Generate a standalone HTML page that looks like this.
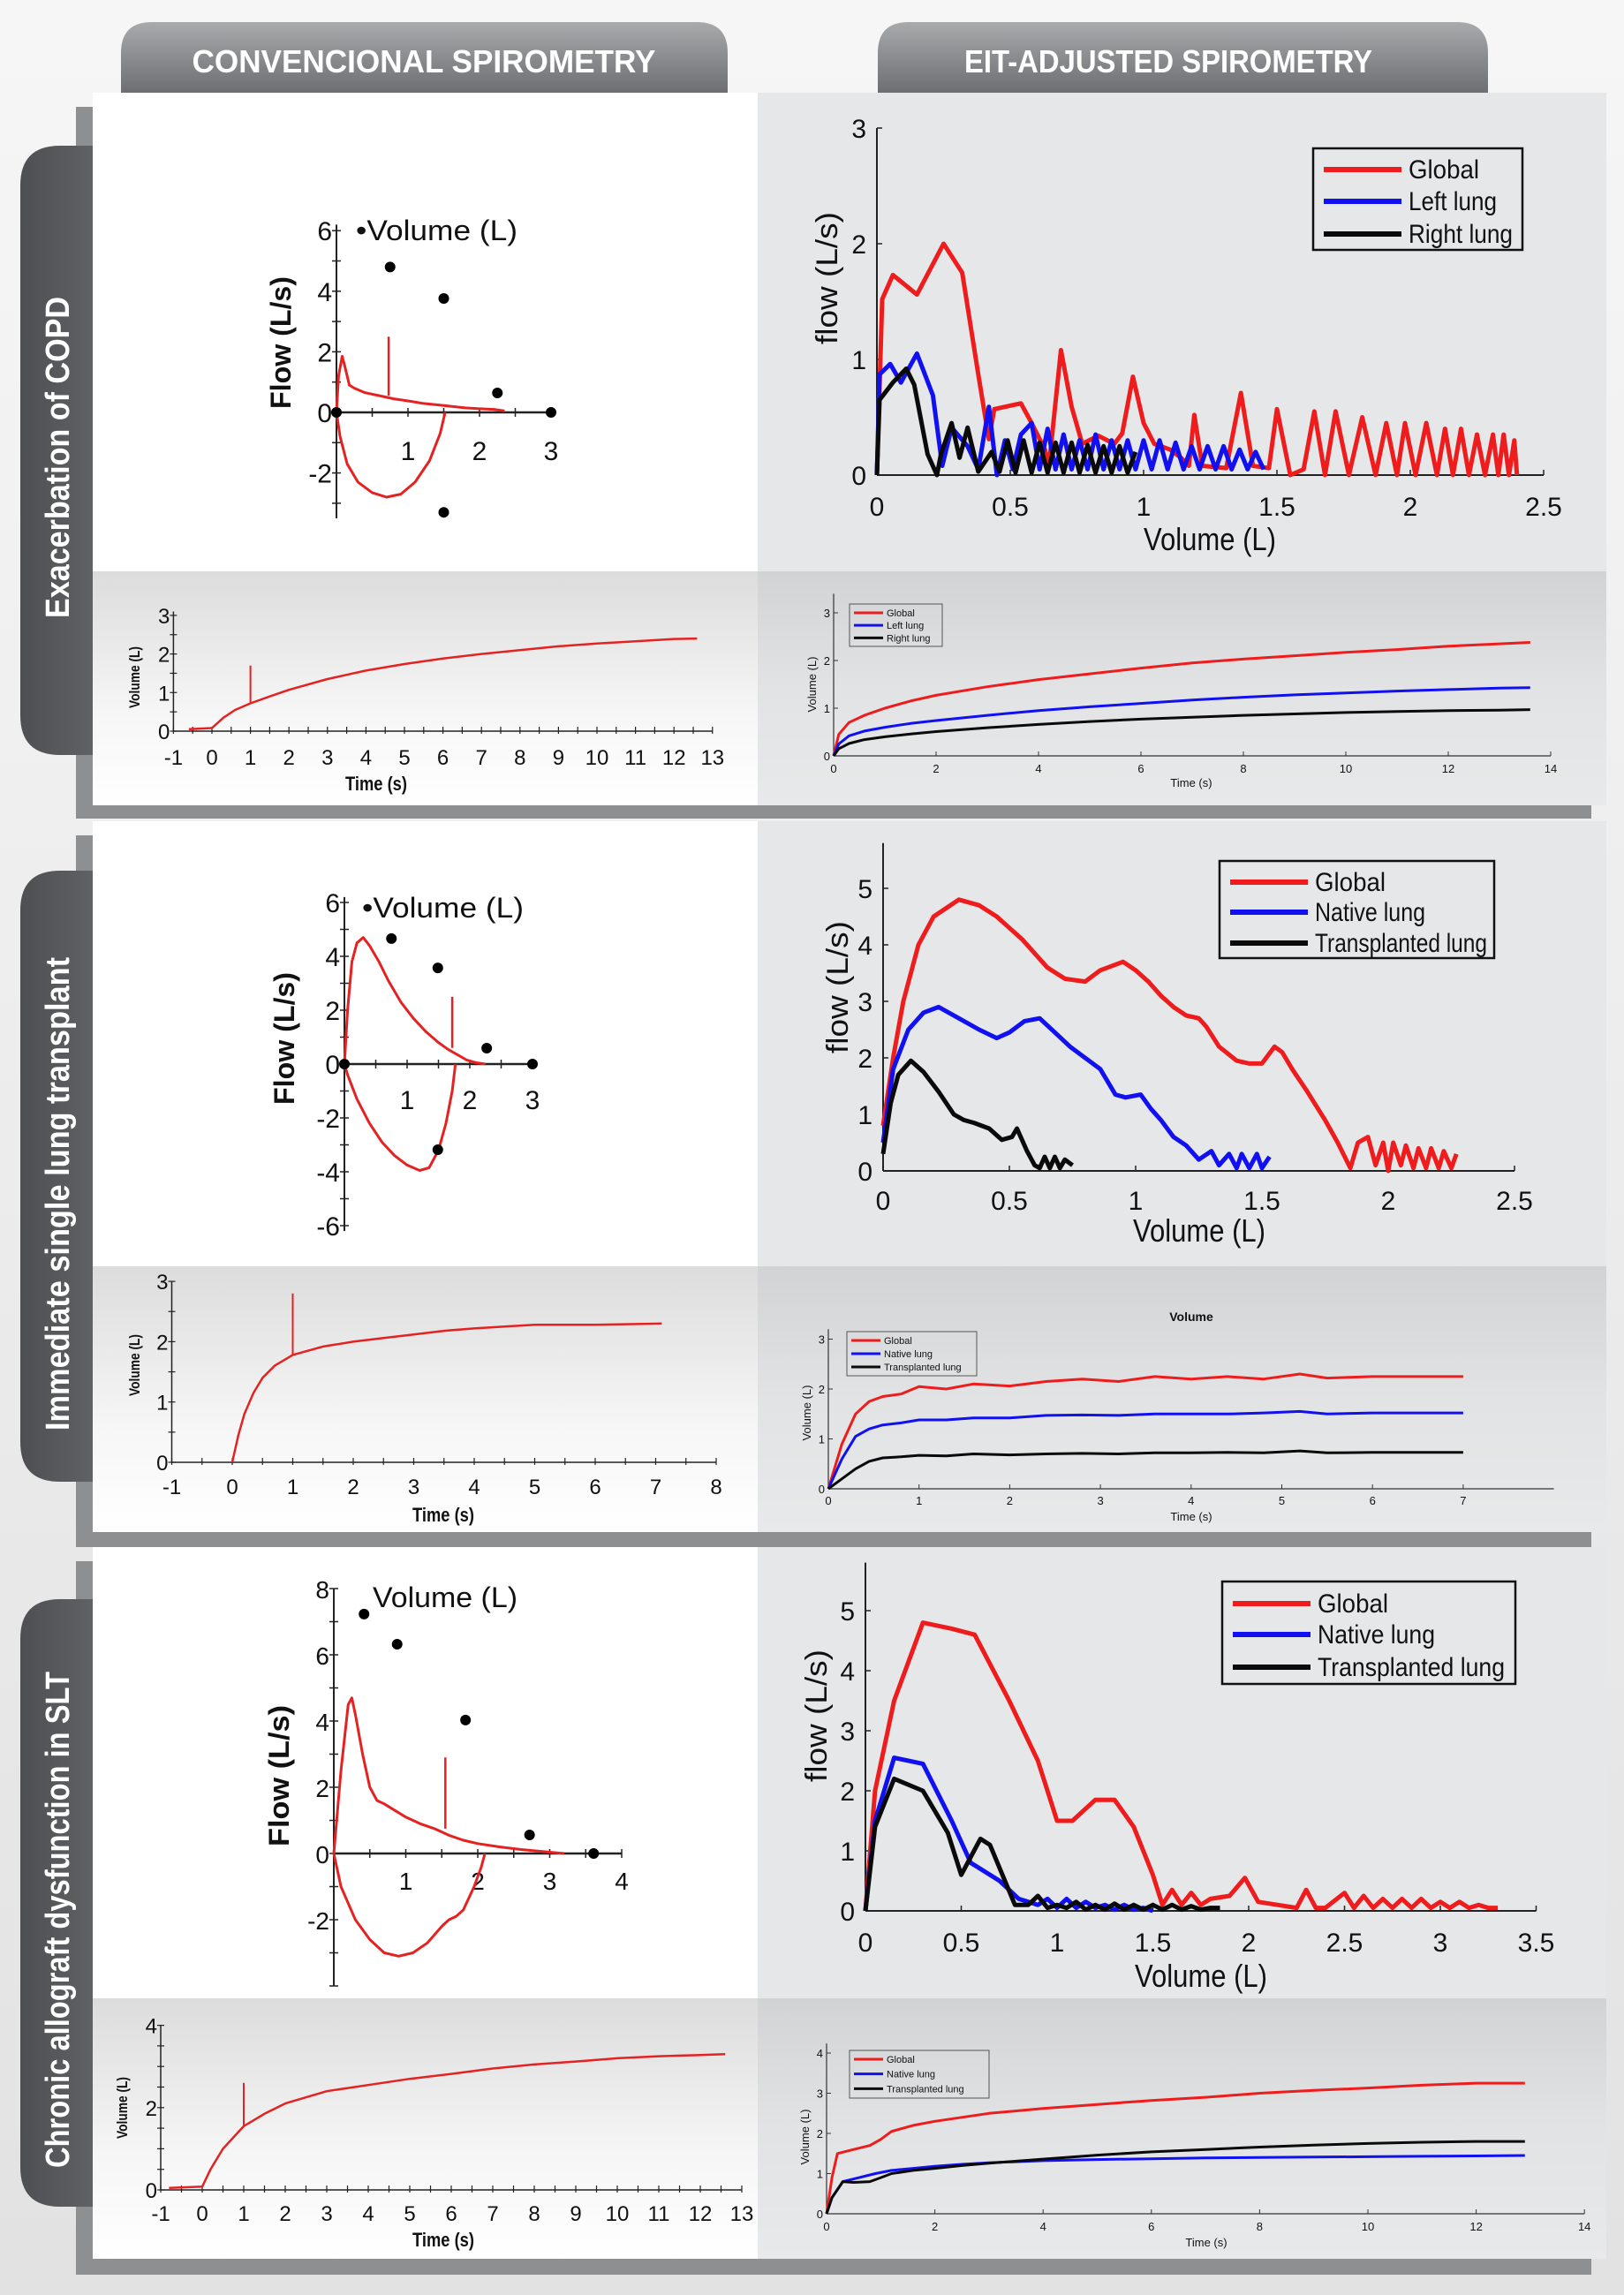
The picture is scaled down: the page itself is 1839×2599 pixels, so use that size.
<!DOCTYPE html>
<html><head><meta charset="utf-8"><style>
html,body{margin:0;padding:0;background:#ececec;}
svg{display:block;}
text{font-family:"Liberation Sans Narrow","Liberation Sans",sans-serif;}
.hdr{font-family:"Liberation Sans Narrow","Liberation Sans",sans-serif;font-weight:bold;fill:#fff;}
.side{font-family:"Liberation Sans",sans-serif;font-weight:bold;fill:#fff;}
</style></head><body>
<svg id="fig" xmlns="http://www.w3.org/2000/svg" width="1839" height="2599" viewBox="0 0 1839 2599">
<defs>
<linearGradient id="bgG" x1="0" y1="0" x2="0" y2="1"><stop offset="0" stop-color="#f6f6f6"/><stop offset="1" stop-color="#e2e2e2"/></linearGradient>
<linearGradient id="tabG" x1="0" y1="0" x2="0" y2="1"><stop offset="0" stop-color="#a9aaac"/><stop offset="1" stop-color="#6a6b6e"/></linearGradient>
<linearGradient id="sideG" x1="0" y1="0" x2="1" y2="0"><stop offset="0" stop-color="#4e4f52"/><stop offset="1" stop-color="#606164"/></linearGradient>
<linearGradient id="stripL" x1="0" y1="0" x2="0" y2="1"><stop offset="0" stop-color="#dcdcdc"/><stop offset="0.6" stop-color="#f6f6f6"/><stop offset="1" stop-color="#ffffff"/></linearGradient>
<linearGradient id="stripR" x1="0" y1="0" x2="0" y2="1"><stop offset="0" stop-color="#d2d3d4"/><stop offset="0.5" stop-color="#e2e3e4"/><stop offset="1" stop-color="#e8e9ea"/></linearGradient>
</defs>
<rect x="0" y="0" width="1839" height="2599" fill="url(#bgG)"/>

<path d="M137,109 V60 Q137,25 172,25 H789 Q824,25 824,60 V109 Z" fill="url(#tabG)"/>
<text class="hdr" x="480" y="82" font-size="36" text-anchor="middle" textLength="525" lengthAdjust="spacingAndGlyphs">CONVENCIONAL SPIROMETRY</text>
<path d="M994,109 V60 Q994,25 1029,25 H1650 Q1685,25 1685,60 V109 Z" fill="url(#tabG)"/>
<text class="hdr" x="1323" y="82" font-size="36" text-anchor="middle" textLength="462" lengthAdjust="spacingAndGlyphs">EIT-ADJUSTED SPIROMETRY</text>

<g id="panels"></g>
</svg>
<script>
const NS='http://www.w3.org/2000/svg';
// ---------- DATA ----------
// Panel 1 conventional flow-volume
const p1ExpX=[0,0.03,0.08,0.12,0.18,0.25,0.4,0.6,0.8,1.0,1.2,1.4,1.6,1.8,2.0,2.2,2.35];
const p1ExpY=[0,1.2,1.85,1.5,0.9,0.8,0.65,0.55,0.45,0.38,0.3,0.25,0.2,0.15,0.12,0.1,0.05];
const p1InsX=[0,0.05,0.15,0.3,0.5,0.7,0.9,1.1,1.3,1.45,1.52];
const p1InsY=[0,-0.8,-1.7,-2.3,-2.65,-2.8,-2.7,-2.3,-1.6,-0.7,0];
const p1SpikeX=[0.73,0.73];const p1SpikeY=[0.55,2.5];
const p1DotX=[0,0.75,1.5,2.25,1.5,3];const p1DotY=[0,4.8,3.76,0.64,-3.3,0];
// Panel 1 EIT flow-volume
const p1GX=[0,0.02,0.06,0.15,0.25,0.32,0.38,0.42,0.44,0.54,0.58,0.63,0.645,0.69,0.73,0.77,0.83,0.89,0.92,0.96,1.0,1.04,1.1,1.14,1.17,1.19,1.22,1.31,1.365,1.41,1.47,1.5,1.55,1.6,1.64,1.68,1.72,1.77,1.82,1.87,1.91,1.95,1.98,2.02,2.06,2.1,2.13,2.16,2.19,2.22,2.25,2.28,2.31,2.33,2.35,2.37,2.39,2.4];
const p1GY=[0,1.52,1.73,1.56,2.0,1.75,0.87,0.31,0.57,0.62,0.45,0.22,0.08,1.08,0.59,0.27,0.34,0.27,0.36,0.85,0.45,0.27,0.22,0.15,0.08,0.52,0.08,0.06,0.71,0.08,0.06,0.57,0,0.05,0.55,0,0.55,0,0.5,0,0.45,0,0.45,0,0.45,0,0.4,0,0.4,0,0.35,0,0.35,0,0.35,0,0.3,0];
const p1LX=[0,0.01,0.05,0.09,0.15,0.21,0.245,0.28,0.34,0.38,0.42,0.45,0.48,0.51,0.54,0.58,0.61,0.64,0.67,0.7,0.73,0.76,0.79,0.82,0.85,0.88,0.91,0.94,0.97,1.0,1.03,1.06,1.09,1.12,1.15,1.18,1.21,1.24,1.27,1.3,1.33,1.36,1.39,1.42,1.45];
const p1LY=[0,0.87,0.96,0.8,1.05,0.69,0.08,0.41,0.25,0.05,0.59,0,0.3,0.05,0.35,0.45,0.05,0.4,0.05,0.35,0.05,0.3,0.05,0.35,0.05,0.3,0.05,0.3,0.05,0.3,0.05,0.3,0.05,0.28,0.05,0.25,0.05,0.25,0.05,0.25,0.05,0.22,0.05,0.2,0.05];
const p1RX=[0,0.01,0.06,0.11,0.14,0.19,0.225,0.24,0.28,0.31,0.34,0.38,0.43,0.46,0.49,0.52,0.55,0.58,0.61,0.64,0.67,0.7,0.73,0.76,0.79,0.82,0.85,0.88,0.91,0.94,0.97];
const p1RY=[0,0.65,0.8,0.92,0.78,0.18,0,0.18,0.45,0.15,0.41,0.03,0.2,0.03,0.3,0.02,0.3,0.02,0.28,0.02,0.28,0.02,0.28,0.02,0.26,0.02,0.25,0.02,0.25,0.02,0.2];
// Panel 1 volume-time
const p1VTX=[-0.6,0,0.3,0.6,1,1.5,2,3,4,5,6,7,8,9,10,11,12,12.6];
const p1VTY=[0.05,0.08,0.35,0.55,0.72,0.9,1.07,1.35,1.57,1.74,1.88,2.0,2.1,2.2,2.27,2.33,2.39,2.4];
const p1VTSpikeX=[1,1];const p1VTSpikeY=[0.72,1.7];
const p1EGX=[0,0.1,0.3,0.6,1,1.5,2,3,4,5,6,7,8,9,10,11,12,13,13.6];
const p1EGY=[0,0.45,0.7,0.85,1.0,1.15,1.27,1.45,1.6,1.72,1.84,1.95,2.03,2.1,2.17,2.23,2.3,2.35,2.38];
const p1ELX=[0,0.1,0.3,0.6,1,1.5,2,3,4,5,6,7,8,9,10,11,12,13,13.6];
const p1ELY=[0,0.25,0.42,0.52,0.6,0.68,0.74,0.85,0.95,1.03,1.1,1.17,1.23,1.28,1.32,1.36,1.39,1.42,1.43];
const p1ERX=[0,0.1,0.3,0.6,1,1.5,2,3,4,5,6,7,8,9,10,11,12,13,13.6];
const p1ERY=[0,0.15,0.26,0.34,0.4,0.46,0.51,0.59,0.66,0.72,0.77,0.81,0.85,0.88,0.91,0.93,0.95,0.96,0.97];

// Panel 2 conventional
const p2ExpX=[0,0.05,0.12,0.2,0.3,0.4,0.55,0.7,0.9,1.1,1.3,1.5,1.65,1.8,1.95,2.1,2.25];
const p2ExpY=[0,2.0,3.8,4.5,4.7,4.4,3.8,3.1,2.3,1.7,1.2,0.8,0.55,0.35,0.15,0.05,0];
const p2InsX=[0,0.05,0.2,0.4,0.6,0.8,1.0,1.2,1.35,1.5,1.62,1.72,1.77];
const p2InsY=[0,-0.4,-1.3,-2.2,-2.9,-3.4,-3.75,-3.95,-3.85,-3.2,-2.2,-1.0,0];
const p2SpikeX=[1.72,1.72];const p2SpikeY=[0.6,2.5];
const p2DotX=[0,0.75,1.49,2.27,1.49,3];const p2DotY=[0,4.66,3.57,0.59,-3.18,0];
// Panel 2 EIT
const p2GX=[0,0.04,0.08,0.14,0.2,0.3,0.38,0.45,0.55,0.65,0.72,0.8,0.86,0.95,1.0,1.05,1.1,1.15,1.2,1.25,1.28,1.33,1.4,1.45,1.5,1.55,1.58,1.62,1.68,1.75,1.8,1.85,1.88,1.92,1.95,1.98,2.0,2.02,2.05,2.07,2.1,2.12,2.15,2.17,2.2,2.22,2.25,2.27];
const p2GY=[0.8,2.0,3.0,4.0,4.5,4.8,4.7,4.5,4.1,3.6,3.4,3.35,3.55,3.7,3.55,3.35,3.1,2.9,2.75,2.7,2.55,2.2,1.95,1.9,1.9,2.2,2.1,1.8,1.4,0.9,0.5,0.05,0.5,0.6,0.1,0.5,0,0.5,0.1,0.45,0.05,0.4,0.05,0.4,0.05,0.35,0.05,0.3];
const p2NX=[0,0.04,0.1,0.16,0.22,0.3,0.38,0.45,0.5,0.56,0.62,0.68,0.74,0.8,0.86,0.92,0.96,1.02,1.06,1.1,1.15,1.2,1.25,1.3,1.33,1.37,1.4,1.42,1.45,1.48,1.5,1.53];
const p2NY=[0.5,1.8,2.5,2.8,2.9,2.7,2.5,2.35,2.45,2.65,2.7,2.45,2.2,2.0,1.8,1.35,1.3,1.35,1.1,0.9,0.6,0.45,0.2,0.35,0.1,0.3,0.05,0.3,0.05,0.3,0.05,0.25];
const p2TX=[0,0.03,0.06,0.11,0.16,0.22,0.28,0.32,0.36,0.42,0.47,0.51,0.53,0.57,0.6,0.62,0.64,0.66,0.68,0.7,0.72,0.75];
const p2TY=[0.3,1.2,1.7,1.95,1.75,1.4,1.0,0.9,0.85,0.75,0.55,0.6,0.75,0.35,0.1,0.05,0.25,0.05,0.25,0.05,0.2,0.1];
// Panel 2 volume-time
const p2VTX=[0,0.1,0.2,0.35,0.5,0.7,1,1.5,2,2.5,3,3.5,4,4.5,5,6,7.1];
const p2VTY=[0,0.45,0.8,1.15,1.4,1.6,1.78,1.92,2.0,2.06,2.12,2.18,2.22,2.25,2.28,2.28,2.3];
const p2VTSpikeX=[1,1];const p2VTSpikeY=[1.78,2.8];
const p2EGX=[0,0.15,0.3,0.45,0.6,0.8,1,1.3,1.6,2,2.4,2.8,3.2,3.6,4,4.4,4.8,5.2,5.5,6,7];
const p2EGY=[0,0.9,1.5,1.75,1.85,1.9,2.05,2.0,2.1,2.06,2.15,2.2,2.15,2.25,2.2,2.25,2.2,2.3,2.22,2.25,2.25];
const p2ENX=[0,0.15,0.3,0.45,0.6,0.8,1,1.3,1.6,2,2.4,2.8,3.2,3.6,4,4.4,4.8,5.2,5.5,6,7];
const p2ENY=[0,0.6,1.05,1.2,1.28,1.32,1.38,1.38,1.42,1.42,1.47,1.48,1.47,1.5,1.5,1.5,1.52,1.55,1.5,1.52,1.52];
const p2ETX=[0,0.15,0.3,0.45,0.6,0.8,1,1.3,1.6,2,2.4,2.8,3.2,3.6,4,4.4,4.8,5.2,5.5,6,7];
const p2ETY=[0,0.2,0.4,0.55,0.62,0.64,0.67,0.66,0.7,0.68,0.7,0.71,0.7,0.72,0.72,0.73,0.72,0.76,0.72,0.73,0.73];

// Panel 3 conventional
const p3ExpX=[0,0.1,0.2,0.25,0.3,0.4,0.5,0.6,0.7,0.85,1.0,1.2,1.4,1.6,1.8,2.0,2.3,2.6,2.9,3.2];
const p3ExpY=[0,2.5,4.5,4.7,4.2,3.0,2.0,1.6,1.5,1.3,1.1,0.9,0.75,0.55,0.4,0.3,0.2,0.12,0.06,0];
const p3InsX=[0,0.1,0.3,0.5,0.7,0.9,1.1,1.3,1.5,1.6,1.7,1.8,1.95,2.05,2.1];
const p3InsY=[0,-1.0,-2.0,-2.6,-3.0,-3.1,-3.0,-2.7,-2.2,-2.0,-1.9,-1.7,-1.0,-0.4,0];
const p3SpikeX=[1.55,1.55];const p3SpikeY=[0.75,2.9];
const p3DotX=[0.42,0.88,1.83,2.72,3.61];const p3DotY=[7.23,6.32,4.03,0.56,0];
// Panel 3 EIT
const p3GX=[0,0.05,0.15,0.3,0.45,0.57,0.75,0.9,1.0,1.08,1.2,1.3,1.4,1.5,1.55,1.6,1.65,1.7,1.75,1.8,1.9,1.98,2.05,2.15,2.25,2.3,2.35,2.4,2.5,2.55,2.6,2.65,2.7,2.75,2.8,2.85,2.9,2.95,3.0,3.05,3.1,3.15,3.2,3.25,3.3];
const p3GY=[0,2.0,3.5,4.8,4.7,4.6,3.5,2.5,1.5,1.5,1.85,1.85,1.4,0.6,0.1,0.35,0.1,0.3,0.1,0.2,0.25,0.55,0.15,0.1,0.05,0.35,0.05,0.05,0.3,0.05,0.25,0.05,0.2,0.05,0.2,0.05,0.2,0.05,0.15,0.05,0.15,0.05,0.1,0.05,0.05];
const p3NX=[0,0.05,0.15,0.3,0.45,0.55,0.6,0.7,0.8,0.85,0.9,0.95,1.0,1.05,1.1,1.15,1.2,1.25,1.3,1.35,1.4,1.45,1.5];
const p3NY=[0,1.5,2.55,2.45,1.5,0.8,0.7,0.5,0.2,0.15,0.1,0.2,0.05,0.2,0.05,0.15,0.05,0.1,0.02,0.1,0.02,0.05,0];
const p3TX=[0,0.05,0.15,0.3,0.43,0.5,0.6,0.65,0.78,0.85,0.9,0.95,1.0,1.05,1.1,1.15,1.2,1.25,1.3,1.35,1.4,1.45,1.5,1.55,1.6,1.65,1.7,1.75,1.8,1.85];
const p3TY=[0,1.4,2.2,2.0,1.3,0.6,1.2,1.1,0.1,0.1,0.25,0.05,0.1,0.05,0.15,0.02,0.1,0.02,0.12,0.02,0.1,0.02,0.1,0.02,0.1,0.02,0.08,0.02,0.05,0.05];
// Panel 3 volume-time
const p3VTX=[-0.8,0,0.2,0.5,1,1.5,2,3,4,5,6,7,8,9,10,11,12,12.6];
const p3VTY=[0.05,0.08,0.5,1.0,1.55,1.85,2.1,2.4,2.55,2.7,2.82,2.95,3.05,3.12,3.2,3.25,3.28,3.3];
const p3VTSpikeX=[1,1];const p3VTSpikeY=[1.55,2.6];
const p3EGX=[0,0.1,0.2,0.5,0.8,1.0,1.2,1.6,2,2.5,3,4,5,6,7,8,9,10,11,12,12.9];
const p3EGY=[0,0.9,1.5,1.6,1.7,1.85,2.05,2.2,2.3,2.4,2.5,2.62,2.72,2.82,2.9,3.0,3.07,3.13,3.2,3.25,3.25];
const p3ENX=[0,0.1,0.3,0.6,0.9,1.2,1.6,2,2.5,3,4,5,6,7,8,9,10,11,12,12.9];
const p3ENY=[0,0.4,0.8,0.9,1.0,1.08,1.13,1.18,1.23,1.27,1.32,1.35,1.37,1.39,1.4,1.41,1.42,1.43,1.44,1.45];
const p3ETX=[0,0.1,0.3,0.5,0.8,1.0,1.2,1.6,2,2.5,3,4,5,6,7,8,9,10,11,12,12.9];
const p3ETY=[0,0.4,0.8,0.78,0.8,0.9,1.0,1.08,1.13,1.2,1.26,1.36,1.46,1.54,1.6,1.66,1.71,1.75,1.78,1.8,1.8];

// ---------- HELPERS ----------
const root=document.getElementById('panels');
function mk(tag,name,parent){
  const e=document.createElementNS(NS,tag);
  
  
  parent.appendChild(e);
  return e;
}
function ln(g,name,x1,y1,x2,y2,c,w){
  const e=mk('line',name,g);
  e.setAttribute('x1',x1);e.setAttribute('y1',y1);e.setAttribute('x2',x2);e.setAttribute('y2',y2);
  e.setAttribute('stroke',c);e.setAttribute('stroke-width',w);
  return e;
}
function tx(g,name,x,y,s,size,anchor,weight,rot,len){
  const e=mk('text',name,g);
  e.setAttribute('x',x);e.setAttribute('y',y);e.setAttribute('font-size',size);
  e.setAttribute('text-anchor',anchor||'middle');
  if(weight)e.setAttribute('font-weight',weight);
  if(rot)e.setAttribute('transform','rotate(-90 '+x+' '+y+')');
  if(len){e.setAttribute('textLength',len);e.setAttribute('lengthAdjust','spacingAndGlyphs');}
  e.setAttribute('fill','#111');
  e.textContent=s;
  return e;
}
function ser(g,name,xs,ys,X,Y,c,w){
  const e=mk('polyline',name,g);
  e.setAttribute('points',xs.map((v,i)=>X(v).toFixed(1)+','+Y(ys[i]).toFixed(1)).join(' '));
  e.setAttribute('fill','none');e.setAttribute('stroke',c);e.setAttribute('stroke-width',w);
  e.setAttribute('stroke-linejoin','round');
  return e;
}
function dots(g,name,xs,ys,X,Y,r){
  xs.forEach((v,i)=>{const d=mk('circle',name,g);d.setAttribute('cx',X(v));d.setAttribute('cy',Y(ys[i]));d.setAttribute('r',r);d.setAttribute('fill','#000');});
}
function sc(o,u,sgn){return v=>o+sgn*v*u;}
const RED='#ee1c1c',BLUE='#1010f0',BLK='#0a0a0a',CRED='#e52222';

// ---------- PANEL FRAMES ----------
const panels=[
 {top:105,bot:912,strip:647,band:927,side:[165,855],label:'Exacerbation of COPD',lc:518,ll:364},
 {top:930,bot:1735,strip:1434,band:1752,side:[986,1678],label:'Immediate single lung transplant',lc:1352,ll:536},
 {top:1752,bot:2558,strip:2263,band:2576,side:[1811,2499],label:'Chronic allograft dysfunction in SLT',lc:2174,ll:562}
];
panels.forEach((p,i)=>{
  const g=mk('g','panel-'+(i+1),root);
  const fr=mk('rect','panel-frame',g);
  fr.setAttribute('x',86);fr.setAttribute('y',p.top+16);fr.setAttribute('width',1716);fr.setAttribute('height',p.band-p.top-16);fr.setAttribute('fill','#8e8f91');
  const sd=mk('path','side-tab',g);
  sd.setAttribute('d',`M105,${p.side[0]} H68 Q23,${p.side[0]} 23,${p.side[0]+45} V${p.side[1]-45} Q23,${p.side[1]} 68,${p.side[1]} H105 Z`);
  sd.setAttribute('fill','url(#sideG)');
  const st=mk('text','side-label',g);
  st.setAttribute('class','side');st.setAttribute('x',78);st.setAttribute('y',p.lc);st.setAttribute('font-size',38);
  st.setAttribute('text-anchor','middle');st.setAttribute('transform',`rotate(-90 78 ${p.lc})`);
  st.setAttribute('textLength',p.ll);st.setAttribute('lengthAdjust','spacingAndGlyphs');
  st.textContent=p.label;
  const a=mk('rect','conventional-flow-panel',g);a.setAttribute('x',105);a.setAttribute('y',p.top);a.setAttribute('width',753);a.setAttribute('height',p.strip-p.top);a.setAttribute('fill','#ffffff');
  const b=mk('rect','eit-flow-panel',g);b.setAttribute('x',858);b.setAttribute('y',p.top);b.setAttribute('width',961);b.setAttribute('height',p.strip-p.top);b.setAttribute('fill','#e6e7e8');
  const c=mk('rect','conventional-volume-strip',g);c.setAttribute('x',105);c.setAttribute('y',p.strip);c.setAttribute('width',753);c.setAttribute('height',p.bot-p.strip);c.setAttribute('fill','url(#stripL)');
  const d=mk('rect','eit-volume-strip',g);d.setAttribute('x',858);d.setAttribute('y',p.strip);d.setAttribute('width',961);d.setAttribute('height',p.bot-p.strip);d.setAttribute('fill','url(#stripR)');
});

// ---------- CHART BUILDERS ----------
function convFV(c){
  const g=mk('g',c.name,root);
  const X=sc(c.x0,c.ux,1),Y=sc(c.y0,c.uy,-1);
  ln(g,'y-axis',X(0),Y(c.ymax),X(0),Y(c.ymin),'#222',2);
  ln(g,'x-axis',X(0),Y(0),X(c.xmax),Y(0),'#222',2.5);
  for(let v=Math.ceil(c.ymin);v<=c.ymax;v++){ln(g,'y-tick',X(0)-5,Y(v),X(0)+5,Y(v),'#222',1.5);}
  for(let v=0.5;v<=c.xmax;v+=0.5){ln(g,'x-tick',X(v),Y(0)-5,X(v),Y(0)+5,'#222',1.5);}
  c.yl.forEach(v=>tx(g,'y-tick-label',X(0)-5,Y(v)+11,String(v),c.fs,'end'));
  c.xl.forEach(v=>tx(g,'x-tick-label',X(v),c.xlY,String(v),c.fs,'middle'));
  ser(g,'expiration-curve',c.ex,c.ey,X,Y,CRED,3);
  ser(g,'inspiration-curve',c.ix,c.iy,X,Y,CRED,3);
  ser(g,'flow-spike',c.sx,c.sy,X,Y,CRED,2.5);
  dots(g,'marker-dot',c.dx,c.dy,X,Y,6);
  tx(g,'y-axis-title',c.ytx,c.yty,'Flow (L/s)',32,'middle','bold',true,c.ytl);
  tx(g,'volume-label',c.vx,c.vy,c.vtxt,32,'start',null,false,c.vl);
}
function eitFV(c){
  const g=mk('g',c.name,root);
  const X=sc(c.x0,c.ux,1),Y=sc(c.y0,c.uy,-1);
  ln(g,'y-axis',X(0),Y(c.ytop),X(0),Y(0),'#222',2);
  ln(g,'x-axis',X(0),Y(0),X(c.xmax),Y(0),'#222',2);
  c.yl.forEach(v=>{ln(g,'y-tick',X(0),Y(v),X(0)+6,Y(v),'#222',1.5);tx(g,'y-tick-label',X(0)-12,Y(v)+11,String(v),30,'end');});
  c.xl.forEach(v=>{ln(g,'x-tick',X(v),Y(0),X(v),Y(0)-6,'#222',1.5);tx(g,'x-tick-label',X(v),c.xlY,String(v),30,'middle');});
  tx(g,'x-axis-title',c.xtx,c.xty,'Volume (L)',36,'middle',null,false,150);
  tx(g,'y-axis-title',c.ytx,c.yty,'flow (L/s)',34,'middle',null,true,150);
  c.series.forEach(s=>ser(g,s[0],s[1],s[2],X,Y,s[3],5));
  const lg=mk('g','legend',g);
  const bx=mk('rect','legend-box',lg);
  bx.setAttribute('x',c.lg[0]);bx.setAttribute('y',c.lg[1]);bx.setAttribute('width',c.lg[2]);bx.setAttribute('height',c.lg[3]);
  bx.setAttribute('fill','#e6e7e8');bx.setAttribute('stroke','#111');bx.setAttribute('stroke-width',2.5);
  c.leg.forEach((L,i)=>{const yy=c.lgy[i];ln(lg,'legend-swatch',c.lg[0]+12,yy,c.lg[0]+100,yy,L[1],6);tx(lg,'legend-entry',c.lg[0]+108,yy+10,L[0],30,'start',null,false,L[2]);});
}
function convVT(c){
  const g=mk('g',c.name,root);
  const X=sc(c.x0,c.ux,1),Y=sc(c.y0,c.uy,-1);
  ln(g,'y-axis',X(-1),Y(c.ytop),X(-1),Y(0),'#222',1.5);
  ln(g,'x-axis',X(-1),Y(0),X(c.xmax),Y(0),'#222',1.5);
  for(let v=0;v<=c.ytop;v+=0.5){ln(g,'y-tick',X(-1)-4,Y(v),X(-1)+4,Y(v),'#222',1.2);}
  for(let v=-1;v<=c.xmax;v+=0.5){ln(g,'x-tick',X(v),Y(0)-5,X(v),Y(0)+3,'#222',1.2);}
  c.yl.forEach(v=>tx(g,'y-tick-label',X(-1)-4,Y(v)+9,String(v),24,'end'));
  c.xl.forEach(v=>tx(g,'x-tick-label',X(v),c.xlY,String(v),24,'middle'));
  tx(g,'x-axis-title',c.xtx,c.xty,'Time (s)',22,'middle','bold',false,70);
  tx(g,'y-axis-title',c.ytx,c.yty,'Volume (L)',17,'middle','bold',true,70);
  ser(g,'volume-curve',c.vx,c.vy,X,Y,CRED,2.5);
  ser(g,'volume-spike',c.sx,c.sy,X,Y,CRED,2);
}
function eitVT(c){
  const g=mk('g',c.name,root);
  const X=sc(c.x0,c.ux,1),Y=sc(c.y0,c.uy,-1);
  ln(g,'y-axis',X(0),Y(c.ytop),X(0),Y(0),'#333',1.2);
  ln(g,'x-axis',X(0),Y(0),X(c.xmax),Y(0),'#333',1.2);
  c.yl.forEach(v=>{ln(g,'y-tick',X(0),Y(v),X(0)+5,Y(v),'#333',1);tx(g,'y-tick-label',X(0)-4,Y(v)+5,String(v),13,'end');});
  c.xl.forEach(v=>{ln(g,'x-tick',X(v),Y(0),X(v),Y(0)-5,'#333',1);tx(g,'x-tick-label',X(v),c.xlY,String(v),13,'middle');});
  tx(g,'x-axis-title',c.xtx,c.xty,'Time (s)',13,'middle');
  tx(g,'y-axis-title',c.ytx,c.yty,'Volume (L)',13,'middle',null,true);
  if(c.title)tx(g,'chart-title',c.title[0],c.title[1],'Volume',14,'middle','bold');
  c.series.forEach(s=>ser(g,s[0],s[1],s[2],X,Y,s[3],3));
  const lg=mk('g','legend',g);
  const bx=mk('rect','legend-box',lg);
  bx.setAttribute('x',c.lg[0]);bx.setAttribute('y',c.lg[1]);bx.setAttribute('width',c.lg[2]);bx.setAttribute('height',c.lg[3]);
  bx.setAttribute('fill','none');bx.setAttribute('stroke','#555');bx.setAttribute('stroke-width',1);
  c.leg.forEach((L,i)=>{const yy=c.lg[1]+10+i*(c.lg[3]-14)/2.4;ln(lg,'legend-swatch',c.lg[0]+5,yy,c.lg[0]+38,yy,L[1],3);tx(lg,'legend-entry',c.lg[0]+42,yy+4,L[0],11,'start');});
}

// ---------- PANEL 1 ----------
convFV({name:'p1-conventional-flow-volume',x0:381,ux:81,y0:467,uy:34.3,ymax:6.2,ymin:-3.5,xmax:3,yl:[6,4,2,0,-2],xl:[1,2,3],xlY:521,fs:30,
 ex:p1ExpX,ey:p1ExpY,ix:p1InsX,iy:p1InsY,sx:p1SpikeX,sy:p1SpikeY,dx:p1DotX,dy:p1DotY,ytx:329,yty:388,ytl:150,vx:403,vy:272,vtxt:'•Volume (L)',vl:183});
eitFV({name:'p1-eit-flow-volume',x0:993,ux:302,y0:538,uy:131,ytop:3,xmax:2.5,yl:[0,1,2,3],xl:[0,0.5,1,1.5,2,2.5],xlY:584,xtx:1370,xty:623,ytx:948,yty:315,
 series:[['series-global',p1GX,p1GY,RED],['series-left-lung',p1LX,p1LY,BLUE],['series-right-lung',p1RX,p1RY,BLK]],
 lg:[1487,168,237,115],lgy:[192,228,265],leg:[['Global',RED,80],['Left lung',BLUE,100],['Right lung',BLK,118]]});
convVT({name:'p1-conventional-volume-time',x0:240,ux:43.6,y0:828,uy:43.7,ytop:3.1,xmax:13,yl:[0,1,2,3],xl:[-1,0,1,2,3,4,5,6,7,8,9,10,11,12,13],xlY:866,xtx:426,xty:895,ytx:158,yty:767,
 vx:p1VTX,vy:p1VTY,sx:p1VTSpikeX,sy:p1VTSpikeY});
eitVT({name:'p1-eit-volume-time',x0:944,ux:58,y0:856,uy:54,ytop:3.4,xmax:14,yl:[0,1,2,3],xl:[0,2,4,6,8,10,12,14],xlY:875,xtx:1349,xty:891,ytx:924,yty:775,
 series:[['series-global',p1EGX,p1EGY,RED],['series-left-lung',p1ELX,p1ELY,BLUE],['series-right-lung',p1ERX,p1ERY,BLK]],
 lg:[962,684,105,48],leg:[['Global',RED],['Left lung',BLUE],['Right lung',BLK]]});

// ---------- PANEL 2 ----------
convFV({name:'p2-conventional-flow-volume',x0:390,ux:71,y0:1205,uy:30.5,ymax:6.2,ymin:-6.2,xmax:3,yl:[6,4,2,0,-2,-4,-6],xl:[1,2,3],xlY:1256,fs:30,
 ex:p2ExpX,ey:p2ExpY,ix:p2InsX,iy:p2InsY,sx:p2SpikeX,sy:p2SpikeY,dx:p2DotX,dy:p2DotY,ytx:333,yty:1176,ytl:150,vx:410,vy:1039,vtxt:'•Volume (L)',vl:183});
eitFV({name:'p2-eit-flow-volume',x0:1000,ux:286,y0:1326,uy:64,ytop:5.8,xmax:2.5,yl:[0,1,2,3,4,5],xl:[0,0.5,1,1.5,2,2.5],xlY:1370,xtx:1358,xty:1406,ytx:960,yty:1118,
 series:[['series-global',p2GX,p2GY,RED],['series-native-lung',p2NX,p2NY,BLUE],['series-transplanted-lung',p2TX,p2TY,BLK]],
 lg:[1381,975,311,110],lgy:[999,1033,1068],leg:[['Global',RED,80],['Native lung',BLUE,125],['Transplanted lung',BLK,195]]});
convVT({name:'p2-conventional-volume-time',x0:263,ux:68.5,y0:1656,uy:68.3,ytop:3,xmax:8,yl:[0,1,2,3],xl:[-1,0,1,2,3,4,5,6,7,8],xlY:1692,xtx:502,xty:1723,ytx:158,yty:1546,
 vx:p2VTX,vy:p2VTY,sx:p2VTSpikeX,sy:p2VTSpikeY});
eitVT({name:'p2-eit-volume-time',x0:938,ux:102.7,y0:1686,uy:56.5,ytop:3.2,xmax:8,yl:[0,1,2,3],xl:[0,1,2,3,4,5,6,7],xlY:1704,xtx:1349,xty:1722,ytx:918,yty:1600,title:[1349,1496],
 series:[['series-global',p2EGX,p2EGY,RED],['series-native-lung',p2ENX,p2ENY,BLUE],['series-transplanted-lung',p2ETX,p2ETY,BLK]],
 lg:[959,1508,147,50],leg:[['Global',RED],['Native lung',BLUE],['Transplanted lung',BLK]]});

// ---------- PANEL 3 ----------
convFV({name:'p3-conventional-flow-volume',x0:378,ux:81.5,y0:2099,uy:37.5,ymax:8,ymin:-4,xmax:4,yl:[8,6,4,2,0,-2],xl:[1,2,3,4],xlY:2140,fs:28,
 ex:p3ExpX,ey:p3ExpY,ix:p3InsX,iy:p3InsY,sx:p3SpikeX,sy:p3SpikeY,dx:p3DotX,dy:p3DotY,ytx:327,yty:2011,ytl:160,vx:422,vy:1820,vtxt:'Volume (L)',vl:164});
eitFV({name:'p3-eit-flow-volume',x0:980,ux:217,y0:2164,uy:68,ytop:5.8,xmax:3.5,yl:[0,1,2,3,4,5],xl:[0,0.5,1,1.5,2,2.5,3,3.5],xlY:2210,xtx:1360,xty:2250,ytx:936,yty:1943,
 series:[['series-global',p3GX,p3GY,RED],['series-native-lung',p3NX,p3NY,BLUE],['series-transplanted-lung',p3TX,p3TY,BLK]],
 lg:[1384,1791,332,116],lgy:[1816,1851,1888],leg:[['Global',RED,80],['Native lung',BLUE,133],['Transplanted lung',BLK,212]]});
convVT({name:'p3-conventional-volume-time',x0:229,ux:47,y0:2480,uy:46.6,ytop:4,xmax:13,yl:[0,2,4],xl:[-1,0,1,2,3,4,5,6,7,8,9,10,11,12,13],xlY:2515,xtx:502,xty:2544,ytx:144,yty:2387,
 vx:p3VTX,vy:p3VTY,sx:p3VTSpikeX,sy:p3VTSpikeY});
eitVT({name:'p3-eit-volume-time',x0:936,ux:61.3,y0:2507,uy:45.5,ytop:4.24,xmax:14,yl:[0,1,2,3,4],xl:[0,2,4,6,8,10,12,14],xlY:2526,xtx:1366,xty:2544,ytx:916,yty:2420,
 series:[['series-global',p3EGX,p3EGY,RED],['series-native-lung',p3ENX,p3ENY,BLUE],['series-transplanted-lung',p3ETX,p3ETY,BLK]],
 lg:[962,2322,158,54],leg:[['Global',RED],['Native lung',BLUE],['Transplanted lung',BLK]]});
</script>
</body></html>
